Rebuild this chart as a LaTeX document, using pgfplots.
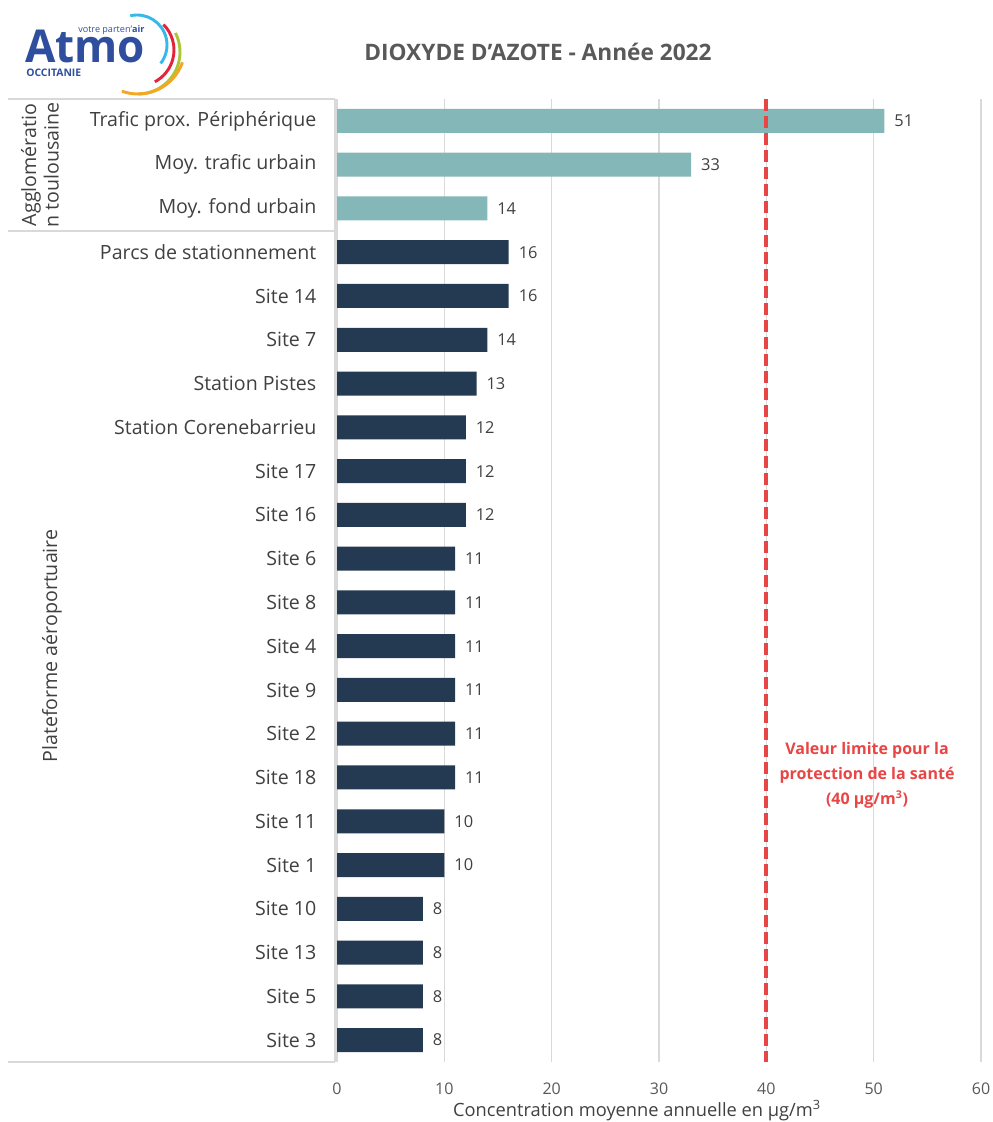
\documentclass[border=0pt]{standalone}
\usepackage{fontspec}
\setmainfont{Open Sans}
\usepackage{pgfplots}
\pgfplotsset{compat=1.18}
\definecolor{teal1}{HTML}{84B7B7}
\definecolor{navy1}{HTML}{243A52}
\definecolor{gridg}{HTML}{D9D9D9}
\definecolor{labg}{HTML}{404040}
\definecolor{tickg}{HTML}{595959}
\definecolor{limred}{HTML}{E84545}
\definecolor{atmob}{HTML}{2F4E9E}
\begin{document}
\begin{tikzpicture}
\useasboundingbox (0,0) rectangle (744.75pt,841.5pt);
\begin{axis}[
  at={(252.75pt,45pt)}, anchor=south west,
  scale only axis, width=483pt, height=722.25pt,
  xmin=0, xmax=60, ymin=-0.5, ymax=21.5, y dir=reverse,
  xtick={0,10,...,60}, ytick={0,...,21},
  yticklabels={Trafic prox. Périphérique, Moy. trafic urbain, Moy. fond urbain, Parcs de stationnement, Site 14, Site 7, Station Pistes, Station Corenebarrieu, Site 17, Site 16, Site 6, Site 8, Site 4, Site 9, Site 2, Site 18, Site 11, Site 1, Site 10, Site 13, Site 5, Site 3},
  xmajorgrids, grid style={draw=gridg, line width=0.9pt},
  axis line style={draw=none}, major tick length=0pt,
  /pgf/number format/assume math mode=true,
  xticklabel style={font=\fontsize{12}{14}\selectfont, text=tickg, yshift=-12pt},
  yticklabel style={font=\fontsize{14.7}{17}\selectfont, text=labg, xshift=-12pt},
  clip=false,
  barstyle/.style={xbar, bar width=18pt, bar shift=0pt, draw=none,
    nodes near coords,
    nodes near coords style={font=\fontsize{12.3}{14}\selectfont, text=labg, anchor=west, xshift=4pt}},
]
\addplot[barstyle, fill=teal1] coordinates {(51,0) (33,1) (14,2)};
\addplot[barstyle, fill=navy1] coordinates {(16,3) (16,4) (14,5) (13,6) (12,7) (12,8) (12,9) (11,10) (11,11) (11,12) (11,13) (11,14) (11,15) (10,16) (10,17) (8,18) (8,19) (8,20) (8,21)};
\addplot[sharp plot, no marks, limred, line width=3pt, dash pattern=on 9pt off 3.75pt] coordinates {(40,-0.5) (40,21.5)};
\end{axis}
\begin{scope}[x=0.75pt, y=-0.75pt, yshift=841.5pt]
  % left frame
  \draw[gridg, line width=0.9pt] (8,99) -- (335,99) (8,231) -- (335,231) (8,1062) -- (335,1062) (335,99) -- (335,1062);
  % group labels
  \node[rotate=90, text=labg, font=\fontsize{14.7}{17}\selectfont, align=center, inner sep=0pt] at (40,165) {Agglomératio\\n toulousaine};
  \node[rotate=90, text=labg, font=\fontsize{14.7}{17}\selectfont, inner sep=0pt] at (52,646) {Plateforme aéroportuaire};
  % title
  \node[text=tickg, font=\fontsize{17}{20}\bfseries] at (538,52) {DIOXYDE D'AZOTE - Année 2022};
  % x label
  \node[text=labg, font=\fontsize{13.7}{16}\selectfont] at (637,1111) {Concentration moyenne annuelle en µg/m\textsuperscript{3}};
  % limit annotation
  \node[text=limred, font=\fontsize{12}{18.75}\bfseries, align=center] at (867,775) {Valeur limite pour la\\protection de la santé\\(40 µg/m\textsuperscript{3})};
  % logo
  \node[text=atmob, font=\fontsize{34}{36}\bfseries, anchor=base west, inner sep=0pt, xscale=0.97] at (25,63) {Atmo};
  \node[text=atmob, font=\fontsize{7.8}{9}\bfseries, anchor=base west, inner sep=0pt] at (26,77) {OCCITANIE};
  \node[text=atmob, font=\fontsize{6.8}{8}\selectfont, anchor=base west, inner sep=0pt] at (78,33) {votre parten'\textbf{air}};
  \draw[color={rgb,255:red,54;green,184;blue,232}, line width=2.2pt] ([shift={(-103:30)}]137,45) arc[start angle=-103, end angle=38, radius=30];
  \draw[color={rgb,255:red,227;green,36;blue,59}, line width=2.2pt] ([shift={(-45:36)}]138,50) arc[start angle=-45, end angle=62, radius=36];
  \draw[color={rgb,255:red,168;green,200;blue,58}, line width=2.2pt] ([shift={(-27:42)}]138,52) arc[start angle=-27, end angle=90, radius=42];
  \draw[color={rgb,255:red,245;green,166;blue,35}, line width=2.2pt] ([shift={(19:47)}]138,47) arc[start angle=19, end angle=110, radius=47];
\end{scope}
\end{tikzpicture}
\end{document}
